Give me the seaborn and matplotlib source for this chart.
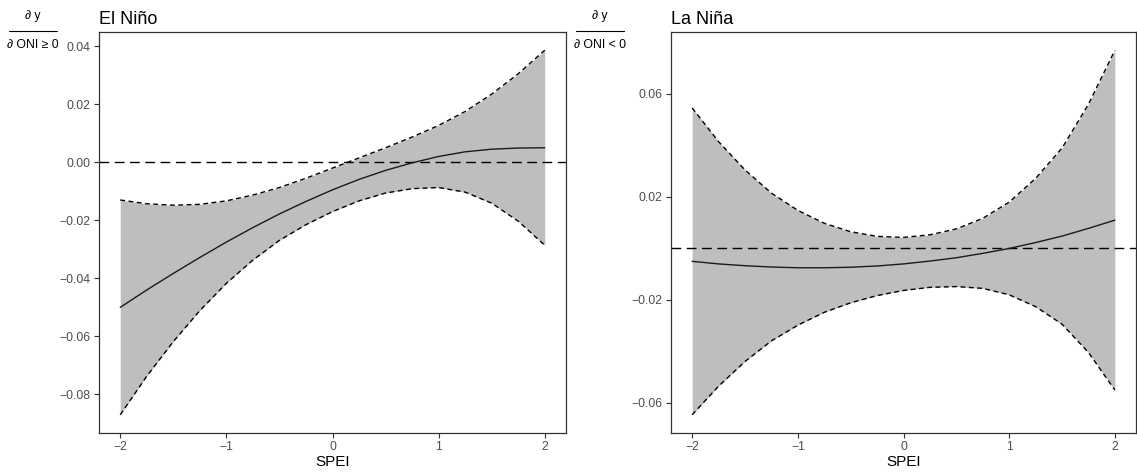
import numpy as np
import pandas as pd
import matplotlib
matplotlib.use("Agg")
import matplotlib.pyplot as plt
from matplotlib.lines import Line2D
import seaborn as sns

# ---- data ----
spei = [-2.0, -1.75, -1.5, -1.25, -1.0, -0.75, -0.5, -0.25, 0.0,
        0.25, 0.5, 0.75, 1.0, 1.25, 1.5, 1.75, 2.0]

nino_mean = [-0.0500, -0.0440, -0.0383, -0.0328, -0.0275, -0.0225, -0.0178, -0.0135, -0.0095,
             -0.0059, -0.0028, -0.0002, 0.0020, 0.0036, 0.0045, 0.0049, 0.0050]
nino_upper = [-0.0130, -0.0143, -0.0148, -0.0145, -0.0133, -0.0113, -0.0087, -0.0055, -0.0020,
              0.0015, 0.0050, 0.0087, 0.0127, 0.0175, 0.0235, 0.0305, 0.0386]
nino_lower = [-0.0870, -0.0737, -0.0618, -0.0511, -0.0417, -0.0337, -0.0269, -0.0215, -0.0170,
              -0.0133, -0.0106, -0.0091, -0.0087, -0.0103, -0.0141, -0.0203, -0.0286]

nina_mean = [-0.0050, -0.0060, -0.0067, -0.0072, -0.0075, -0.0075, -0.0073, -0.0068, -0.0060,
             -0.0049, -0.0036, -0.0019, 0.0000, 0.0023, 0.0048, 0.0078, 0.0110]
nina_upper = [0.0546, 0.0415, 0.0305, 0.0215, 0.0148, 0.0098, 0.0065, 0.0047, 0.0043,
              0.0053, 0.0076, 0.0117, 0.0180, 0.0272, 0.0390, 0.0560, 0.0770]
nina_lower = [-0.0646, -0.0535, -0.0439, -0.0359, -0.0298, -0.0248, -0.0211, -0.0183, -0.0163,
              -0.0151, -0.0148, -0.0155, -0.0180, -0.0226, -0.0294, -0.0404, -0.0550]

titles = ["El Niño", "La Niña"]
ylab_den = ["∂ ONI ≥ 0", "∂ ONI < 0"]
ylab_num = "∂ y"
xticks = [-2, -1, 0, 1, 2]
yticks_nino = [-0.08, -0.06, -0.04, -0.02, 0.00, 0.02, 0.04]
yticks_nina = [-0.06, -0.02, 0.02, 0.06]
xlabel = "SPEI"

# ---- style ----
sns.set_theme(style="white")
plt.rcParams["font.family"] = ["Liberation Sans", "DejaVu Sans"]
plt.rcParams["axes.unicode_minus"] = True

W, H = 1137, 472
fig = plt.figure(figsize=(W / 100, H / 100), dpi=100)

boxes = [
    (99 / W, 1 - 433 / H, (566 - 99) / W, (433 - 32) / H),
    (671 / W, 1 - 433 / H, (1136 - 671) / W, (433 - 32) / H),
]

panels = [
    (nino_mean, nino_upper, nino_lower, yticks_nino),
    (nina_mean, nina_upper, nina_lower, yticks_nina),
]

def fmt(v):
    s = f"{v:.2f}"
    return s.replace("-", "\u2212")

for i, (box, (mean, upper, lower, yt)) in enumerate(zip(boxes, panels)):
    ax = fig.add_axes(box)
    df = pd.DataFrame({"SPEI": spei, "mean": mean, "upper": upper, "lower": lower})
    ax.fill_between(df["SPEI"], df["lower"], df["upper"], color="#BEBEBE", lw=0, zorder=1)
    sns.lineplot(data=df, x="SPEI", y="upper", ax=ax, color="black", lw=1.0,
                 linestyle=(0, (3.5, 2.5)), zorder=3)
    sns.lineplot(data=df, x="SPEI", y="lower", ax=ax, color="black", lw=1.0,
                 linestyle=(0, (3.5, 2.5)), zorder=3)
    sns.lineplot(data=df, x="SPEI", y="mean", ax=ax, color="#1a1a1a", lw=1.0, zorder=4)
    ax.axhline(0, color="black", lw=1.0, linestyle=(0, (7, 4)), zorder=2)

    lo = min(lower); hi = max(upper); r = hi - lo
    ax.set_ylim(lo - 0.05 * r, hi + 0.05 * r)
    ax.set_xlim(-2.2, 2.2)
    ax.set_xticks(xticks)
    ax.set_xticklabels([str(t).replace("-", "\u2212") for t in xticks])
    ax.set_yticks(yt)
    ax.set_yticklabels([fmt(v) for v in yt])
    ax.tick_params(axis="both", which="both", direction="out", length=3.5, width=0.8,
                   color="#333333", labelsize=8.8, labelcolor="#4D4D4D", pad=2.5,
                   bottom=True, left=True)
    for s in ax.spines.values():
        s.set_visible(True)
        s.set_color("#333333")
        s.set_linewidth(0.9)
    ax.set_xlabel(xlabel, fontsize=11, color="black", labelpad=1)
    ax.set_ylabel("")
    ax.set_title(titles[i], loc="left", fontsize=13, color="black", pad=6)
    ax.grid(False)

# y-axis labels as fractions
frac_x = [33 / W, 600 / W]
for cx, den in zip(frac_x, ylab_den):
    fig.text(cx, 1 - 16 / H, ylab_num, ha="center", va="center", fontsize=8.8, color="black")
    fig.text(cx, 1 - 45 / H, den, ha="center", va="center", fontsize=8.8, color="black")
    fig.add_artist(Line2D([cx - 24 / W, cx + 24 / W], [1 - 31 / H, 1 - 31 / H],
                          transform=fig.transFigure, color="black", lw=0.8))

fig.savefig("out.png", dpi=100)
